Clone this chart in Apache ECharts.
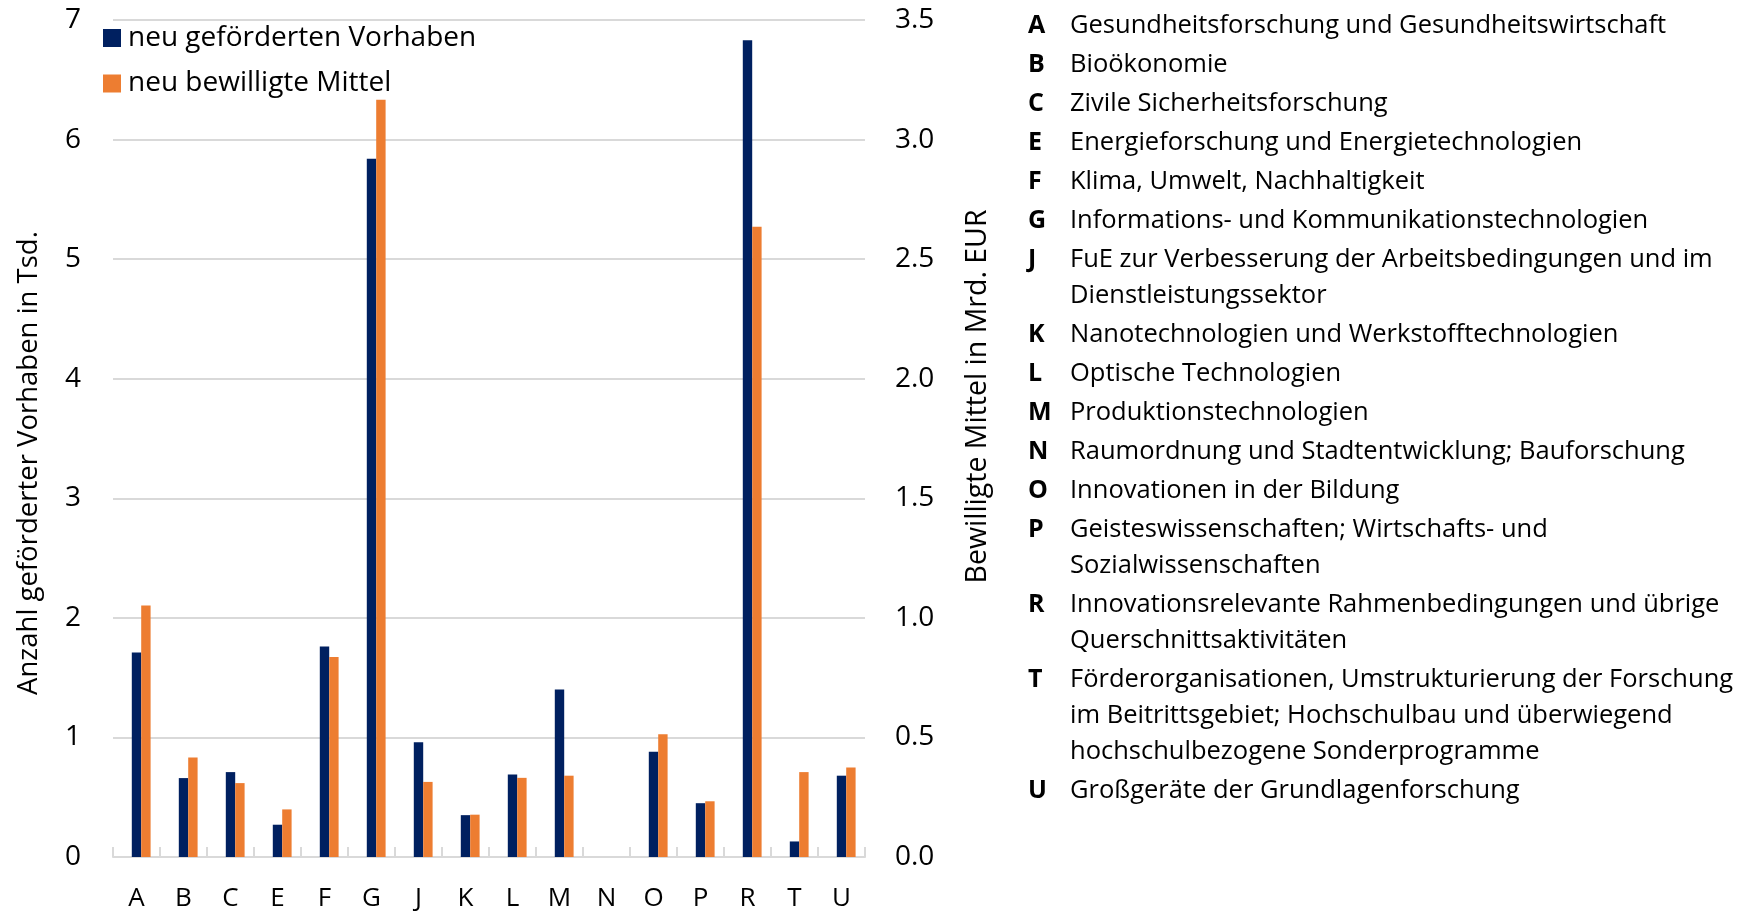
<!DOCTYPE html>
<html>
<head>
<meta charset="utf-8">
<script src="https://cdn.jsdelivr.net/npm/echarts@6/dist/echarts.min.js"></script>
<style>
html,body{margin:0;padding:0;background:#fff;}
#chart{width:1742px;height:912px;}
</style>
</head>
<body>
<div id="chart"></div>
<script>
const categories = ['A','B','C','E','F','G','J','K','L','M','N','O','P','R','T','U'];
const vorhaben = [1.71,0.66,0.71,0.27,1.76,5.84,0.96,0.35,0.69,1.40,0,0.88,0.45,6.83,0.13,0.68];
const mittel = [1.052,0.416,0.309,0.199,0.836,3.167,0.314,0.177,0.331,0.340,0,0.513,0.233,2.635,0.355,0.374];
const seriesNames = ['neu geförderten Vorhaben','neu bewilligte Mittel'];
const leftAxisName = 'Anzahl geförderter Vorhaben in Tsd.';
const rightAxisName = 'Bewilligte Mittel in Mrd. EUR';
const listLetters = ['A','B','C','E','F','G','J','K','L','M','N','O','P','R','T','U'];
const listTexts = [
  ['Gesundheitsforschung und Gesundheitswirtschaft'],
  ['Bioökonomie'],
  ['Zivile Sicherheitsforschung'],
  ['Energieforschung und Energietechnologien'],
  ['Klima, Umwelt, Nachhaltigkeit'],
  ['Informations- und Kommunikationstechnologien'],
  ['FuE zur Verbesserung der Arbeitsbedingungen und im','Dienstleistungssektor'],
  ['Nanotechnologien und Werkstofftechnologien'],
  ['Optische Technologien'],
  ['Produktionstechnologien'],
  ['Raumordnung und Stadtentwicklung; Bauforschung'],
  ['Innovationen in der Bildung'],
  ['Geisteswissenschaften; Wirtschafts- und','Sozialwissenschaften'],
  ['Innovationsrelevante Rahmenbedingungen und übrige','Querschnittsaktivitäten'],
  ['Förderorganisationen, Umstrukturierung der Forschung','im Beitrittsgebiet; Hochschulbau und überwiegend','hochschulbezogene Sonderprogramme'],
  ['Großgeräte der Grundlagenforschung']
];

const FONT = '"Open Sans", "Noto Sans", sans-serif';
const BLUE = '#002060';
const ORANGE = '#ED7D31';
const GRID = '#d9d9d9';

const graphics = [];
let y = 25.5;
const entryGap = 39, wrapGap = 36;
for (let i = 0; i < listLetters.length; i++) {
  graphics.push({type:'text', left:1028, top:y - 18, style:{text:listLetters[i], font:'bold 25px ' + FONT, lineHeight:wrapGap, fill:'#000'}});
  graphics.push({type:'text', left:1070, top:y - 18, style:{text:listTexts[i].join('\n'), font:'25.5px ' + FONT, lineHeight:wrapGap, fill:'#000'}});
  y += entryGap + (listTexts[i].length - 1) * wrapGap;
}

const chart = echarts.init(document.getElementById('chart'));
chart.setOption({
  animation:false,
  backgroundColor:'#fff',
  textStyle:{fontFamily:FONT},
  grid:{left:113, right:877, top:20, bottom:55},
  legend:{
    orient:'vertical', left:98, top:18, itemWidth:18, itemHeight:18, itemGap:15.5,
    icon:'rect',
    textStyle:{fontSize:28, color:'#000', fontFamily:FONT, lineHeight:30, padding:[0,0,0,2]},
    data:seriesNames
  },
  xAxis:{
    type:'category', data:categories,
    axisLine:{lineStyle:{color:GRID, width:2}},
    axisTick:{show:true, lineStyle:{color:GRID, width:2}, length:10, inside:true},
    axisLabel:{color:'#000', fontSize:26, margin:29, fontFamily:FONT}
  },
  yAxis:[
    {type:'value', min:0, max:7, interval:1,
     name:leftAxisName, nameLocation:'middle', nameGap:70, nameRotate:90,
     nameTextStyle:{fontSize:27.5, color:'#000', fontFamily:FONT, padding:[0,49,0,0]},
     axisLine:{show:false}, axisTick:{show:false},
     axisLabel:{color:'#000', fontSize:28, margin:32, fontFamily:FONT},
     splitLine:{lineStyle:{color:GRID, width:2}}},
    {type:'value', min:0, max:3.5, interval:0.5, position:'right',
     name:rightAxisName, nameLocation:'middle', nameGap:98, nameRotate:90,
     nameTextStyle:{fontSize:28.5, color:'#000', fontFamily:FONT, padding:[0,0,0,84]},
     axisLine:{show:false}, axisTick:{show:false},
     axisLabel:{color:'#000', fontSize:28, margin:30, fontFamily:FONT, formatter:v=>v.toFixed(1)},
     splitLine:{show:false}}
  ],
  series:[
    {name:'_spacer', type:'bar', yAxisIndex:0, data:[], barWidth:9.4, barGap:'0%', silent:true},
    {name:seriesNames[0], type:'bar', yAxisIndex:0, data:vorhaben, barWidth:9.4, barGap:'0%', itemStyle:{color:BLUE}},
    {name:seriesNames[1], type:'bar', yAxisIndex:1, data:mittel, barWidth:9.4, barGap:'0%', itemStyle:{color:ORANGE}}
  ],
  graphic:graphics
});
</script>
</body>
</html>
